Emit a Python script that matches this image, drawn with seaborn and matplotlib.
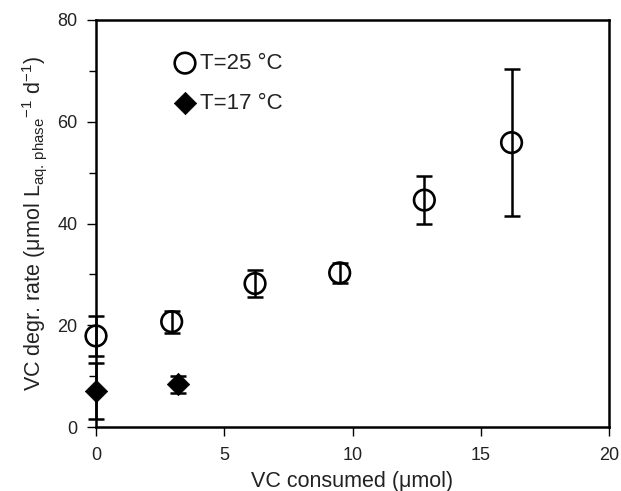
import matplotlib
matplotlib.use("Agg")
import matplotlib.pyplot as plt
import seaborn as sns
import pandas as pd
from matplotlib.ticker import MultipleLocator

# ---- data ----
x_25 = [0.0, 2.95, 6.2, 9.5, 12.8, 16.2]
y_25 = [17.9, 20.7, 28.2, 30.3, 44.6, 55.9]
err_25 = [3.9, 2.2, 2.7, 2.0, 4.75, 14.5]

x_17 = [0.0, 3.2]
y_17 = [7.1, 8.4]
err_17 = [5.5, 1.7]

labels = ["T=25 °C", "T=17 °C"]
x_ticks = [0, 5, 10, 15, 20]
y_ticks = [0, 20, 40, 60, 80]

sns.set_theme(style="ticks")
plt.rcParams["font.family"] = ["Liberation Sans", "DejaVu Sans"]
plt.rcParams["mathtext.fontset"] = "custom"
plt.rcParams["mathtext.rm"] = "Liberation Sans"
plt.rcParams["mathtext.it"] = "Liberation Sans:italic"
plt.rcParams["mathtext.bf"] = "Liberation Sans:bold"

fig = plt.figure(figsize=(6.21, 4.91), dpi=100)
ax = fig.add_axes([0.1546, 0.1303, 0.8261, 0.829])

df25 = pd.DataFrame({"x": x_25, "y": y_25})
df17 = pd.DataFrame({"x": x_17, "y": y_17})

# error bars
for xs, ys, es in [(x_25, y_25, err_25), (x_17, y_17, err_17)]:
    cont = ax.errorbar(xs, ys, yerr=es, fmt="none", ecolor="black",
                       elinewidth=1.8, capsize=6, capthick=1.8, zorder=3)
    for art in cont.get_children():
        art.set_clip_on(False)

# markers
sns.scatterplot(data=df25, x="x", y="y", ax=ax, marker="o", s=220,
                facecolor="none", edgecolor="black", linewidth=1.9,
                label=labels[0], zorder=4, clip_on=False)
sns.scatterplot(data=df17, x="x", y="y", ax=ax, marker="D", s=130,
                color="black", edgecolor="black", linewidth=0.5,
                label=labels[1], zorder=4, clip_on=False)

ax.set_xlim(0, 20)
ax.set_ylim(0, 80)
ax.set_xticks(x_ticks)
ax.set_yticks(y_ticks)
ax.yaxis.set_minor_locator(MultipleLocator(10))

for side in ["left", "right", "top", "bottom"]:
    ax.spines[side].set_visible(True)
    ax.spines[side].set_linewidth(1.8)
    ax.spines[side].set_color("black")

ax.tick_params(axis="both", which="major", direction="out", length=6.5,
               width=1.0, color="black", labelsize=13, pad=7, labelcolor="#222222")
ax.tick_params(axis="y", which="minor", direction="out", length=4.8,
               width=1.0, color="black")
ax.tick_params(axis="x", which="major", pad=8)

ax.set_xlabel("VC consumed (μmol)", fontsize=15.5, labelpad=5, color="#222222")
ax.set_ylabel("VC degr. rate (μmol L$_{\\mathrm{aq.\\,phase}}{}^{-1}$ d$^{-1}$)",
              fontsize=15.5, labelpad=6, color="#222222")

leg = ax.legend(loc="upper left", bbox_to_anchor=(0.1583, 0.919), frameon=False,
                fontsize=16, handlelength=0.7, handletextpad=0.32,
                labelspacing=0.85, borderpad=0, borderaxespad=0)
for t in leg.get_texts():
    t.set_color("#222222")

fig.savefig("out.png", dpi=100)
